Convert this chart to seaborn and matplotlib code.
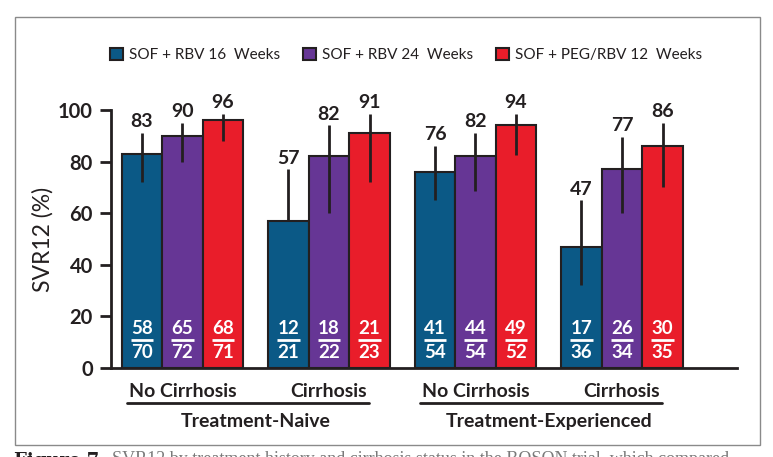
import seaborn as sns
import matplotlib.pyplot as plt
import pandas as pd
from matplotlib.patches import Rectangle

# subgroups (x) and regimens (hue)
groups = ['TN-NC', 'TN-C', 'TE-NC', 'TE-C']
group_labels = ['No Cirrhosis', 'Cirrhosis', 'No Cirrhosis', 'Cirrhosis']
history_labels = ['Treatment-Naive', 'Treatment-Experienced']
regimens = ['SOF + RBV 16  Weeks', 'SOF + RBV 24  Weeks', 'SOF + PEG/RBV 12  Weeks']
colors = ['#0b5986', '#663695', '#e91d2a']

svr_16 = [83, 57, 76, 47]
svr_24 = [90, 82, 82, 77]
svr_peg = [96, 91, 94, 86]

ci_lo_16 = [72, 57, 65, 32]
ci_hi_16 = [91, 77, 86, 65]
ci_lo_24 = [80, 60, 68.5, 60]
ci_hi_24 = [95, 94, 91, 89.5]
ci_lo_peg = [88, 72, 82.5, 70]
ci_hi_peg = [98.5, 98.5, 98.5, 95]

resp_16 = [58, 12, 41, 17]
tot_16 = [70, 21, 54, 36]
resp_24 = [65, 18, 44, 26]
tot_24 = [72, 22, 54, 34]
resp_peg = [68, 21, 49, 30]
tot_peg = [71, 23, 52, 35]

svr = [svr_16, svr_24, svr_peg]
ci_lo = [ci_lo_16, ci_lo_24, ci_lo_peg]
ci_hi = [ci_hi_16, ci_hi_24, ci_hi_peg]
resp = [resp_16, resp_24, resp_peg]
tot = [tot_16, tot_24, tot_peg]

rows = []
for r, reg in enumerate(regimens):
    for g, grp in enumerate(groups):
        rows.append({'grp': grp, 'regimen': reg, 'svr': svr[r][g]})
df = pd.DataFrame(rows)

sns.set_theme(style='white')
plt.rcParams['font.family'] = ['Lato', 'DejaVu Sans']
ink = '#231f20'

fig = plt.figure(figsize=(7.73, 4.57), dpi=100)
ax = fig.add_axes([111/773, 89/457, (737-111)/773, (368-110)/457])

sns.barplot(data=df, x='grp', y='svr', hue='regimen', order=groups, hue_order=regimens,
            palette=colors, width=0.83, gap=0, saturation=1, errorbar=None,
            edgecolor=ink, linewidth=1.5, ax=ax, zorder=2)

ax.set_xlim(-0.488, 3.785)
ax.set_ylim(0, 100)
ax.set_yticks([0, 20, 40, 60, 80, 100])
ax.tick_params(axis='y', direction='out', length=8, width=2, color=ink, pad=5,
               labelsize=14.5, labelcolor=ink, left=True)
for t in ax.get_yticklabels():
    t.set_fontweight('bold')
ax.set_xticks(range(len(groups)))
ax.set_xticklabels(group_labels, fontsize=14, fontweight='bold', color=ink)
ax.tick_params(axis='x', length=0, pad=11)
ax.set_xlabel('')
ax.set_ylabel('SVR12 (%)', fontsize=16.5, color=ink, labelpad=3)
for s in ['top', 'right']:
    ax.spines[s].set_visible(False)
for s in ['left', 'bottom']:
    ax.spines[s].set_linewidth(2)
    ax.spines[s].set_color(ink)
    ax.spines[s].set_zorder(4)

for r, cont in enumerate(ax.containers):
    for g, bar in enumerate(cont):
        xc = bar.get_x() + bar.get_width() / 2
        ax.vlines(xc, ci_lo[r][g], ci_hi[r][g], color=ink, lw=2, zorder=3)
        ax.annotate(str(svr[r][g]), (xc, ci_hi[r][g]), xytext=(0, 2), textcoords='offset points',
                    ha='center', va='bottom', fontsize=14, fontweight='bold', color=ink)
        ax.text(xc, 15.5, str(resp[r][g]), ha='center', va='center', fontsize=13.5,
                fontweight='bold', color='white', zorder=4)
        ax.plot([xc - 0.076, xc + 0.076], [10.8, 10.8], color='white', lw=2,
                solid_capstyle='butt', zorder=4)
        ax.text(xc, 5.9, str(tot[r][g]), ha='center', va='center', fontsize=13.5,
                fontweight='bold', color='white', zorder=4)

# treatment-history brackets under the subgroup labels
trans = ax.get_xaxis_transform()
for h, lab in enumerate(history_labels):
    g0, g1 = 2 * h, 2 * h + 1
    ax.plot([g0 - 0.381, g1 + 0.275], [-0.137, -0.137], color=ink, lw=2,
            transform=trans, clip_on=False)
    ax.text((g0 + g1) / 2, -0.208, lab, transform=trans, ha='center', va='center',
            fontsize=14, fontweight='bold', color=ink)

sns.move_legend(ax, 'center', bbox_to_anchor=(406/773, 1 - 55/457),
                bbox_transform=fig.transFigure, ncol=3, frameon=False, title=None,
                fontsize=11, handlelength=0.85, handleheight=0.85, handletextpad=0.4,
                columnspacing=1.5)
for t in ax.get_legend().get_texts():
    t.set_color(ink)

# outer frame and clipped caption
fig.patches.append(Rectangle((15/773, 12/457), 745/773, 428/457, transform=fig.transFigure,
                             fill=False, edgecolor='#8a8a8a', lw=1))
cap1 = fig.text(14/773, 5.5/457, 'Figure 7.', ha='left', va='top', fontsize=13,
                fontweight='bold', color=ink, family='DejaVu Serif')
fig.canvas.draw()
bb = cap1.get_window_extent()
fig.text(bb.x1 / 773 + 6/773, 5.5/457,
         'SVR12 by treatment history and cirrhosis status in the BOSON trial, which compared',
         ha='left', va='top', fontsize=13, color='#7a7a7a', family='Liberation Serif')

plt.savefig('out.png', dpi=100)
plt.close()
